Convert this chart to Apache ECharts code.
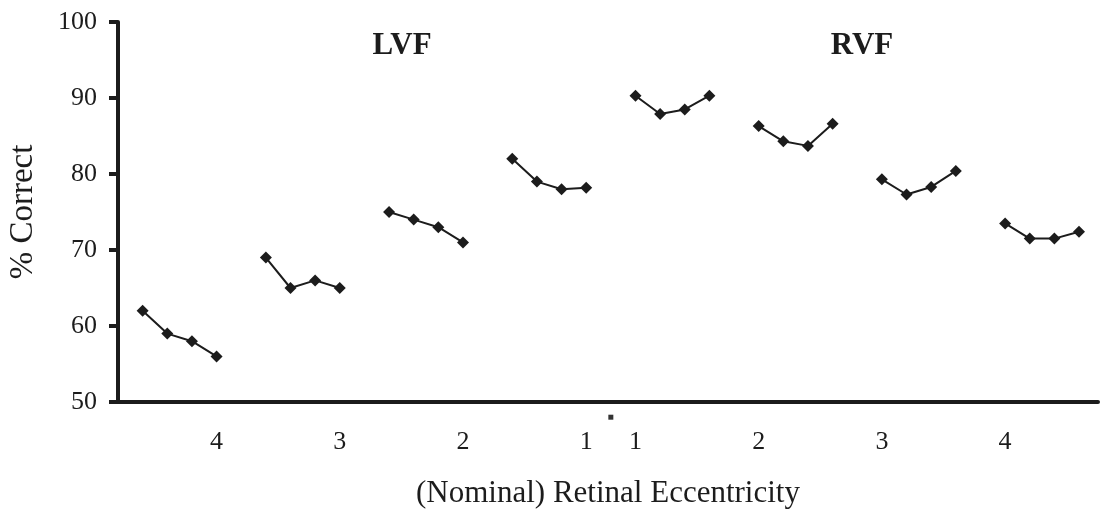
<!DOCTYPE html>
<html>
<head>
<meta charset="utf-8">
<script src="https://cdn.jsdelivr.net/npm/echarts@6/dist/echarts.min.js"></script>
<style>
html,body{margin:0;padding:0;background:#fff;}
#chart{width:1102px;height:512px;}
</style>
</head>
<body>
<div id="chart"></div>
<script>
// Group labels (eccentricity), left to right
const groupLabels = ['4', '3', '2', '1', '1', '2', '3', '4'];
const fieldTitles = ['LVF', 'RVF'];
// % correct, four points per eccentricity group
const lvf4 = [62, 59, 58, 56];
const lvf3 = [69, 65, 66, 65];
const lvf2 = [75, 74, 73, 71];
const lvf1 = [82, 79, 78, 78.2];
const rvf1 = [90.3, 87.9, 88.5, 90.3];
const rvf2 = [86.3, 84.3, 83.7, 86.6];
const rvf3 = [79.3, 77.3, 78.3, 80.4];
const rvf4 = [73.5, 71.5, 71.5, 72.4];
const yTicks = [50, 60, 70, 80, 90, 100];

const groups = [lvf4, lvf3, lvf2, lvf1, rvf1, rvf2, rvf3, rvf4];
const SLOTS = 5; // 4 points + 1 gap slot per group
const INK = '#1c1c1c';
const FONT = '"Liberation Serif", "Times New Roman", serif';

// label positions: LVF labels under last point, RVF labels under first point
const labelAt = {};
groups.forEach((g, gi) => {
  const idx = gi < 4 ? gi * SLOTS + 3 : gi * SLOTS;
  labelAt[idx] = groupLabels[gi];
});

const series = groups.map((vals, gi) => ({
  type: 'line',
  data: vals.map((v, j) => [gi * SLOTS + j, v]),
  symbol: 'diamond',
  symbolSize: 12,
  lineStyle: { color: INK, width: 2 },
  itemStyle: { color: INK },
  animation: false,
  silent: true
}));
// small fixation marker between the two visual fields, just below the axis
series.push({
  type: 'scatter',
  data: [[4 * SLOTS - 1, yTicks[0] - 2]],
  symbol: 'rect',
  symbolSize: 5,
  itemStyle: { color: '#000' },
  clip: false,
  animation: false,
  silent: true
});

const chart = echarts.init(document.getElementById('chart'), null, { renderer: 'canvas' });
chart.setOption({
  backgroundColor: '#fff',
  animation: false,
  grid: { left: 118, right: 4, top: 22, bottom: 110, containLabel: false, outerBoundsMode: 'none' },
  xAxis: {
    type: 'value',
    min: -1,
    max: 38.77,
    interval: 1,
    splitLine: { show: false },
    axisTick: { show: false },
    axisLine: { show: true, onZero: false, lineStyle: { color: INK, width: 4 } },
    axisLabel: {
      show: true,
      margin: 27,
      color: INK,
      fontFamily: FONT,
      fontSize: 26,
      showMinLabel: true,
      showMaxLabel: true,
      formatter: v => labelAt[Math.round(v)] !== undefined && Math.abs(v - Math.round(v)) < 1e-6 ? labelAt[Math.round(v)] : ''
    },
    name: '(Nominal) Retinal Eccentricity',
    nameLocation: 'middle',
    nameGap: 76,
    nameTextStyle: { color: INK, fontFamily: FONT, fontSize: 31 }
  },
  yAxis: {
    type: 'value',
    min: yTicks[0],
    max: yTicks[yTicks.length - 1],
    interval: 10,
    splitLine: { show: false },
    axisLine: { show: true, onZero: false, lineStyle: { color: INK, width: 4 } },
    axisTick: { show: true, inside: false, length: 9, lineStyle: { color: INK, width: 4 } },
    axisLabel: { margin: 21, color: INK, fontFamily: FONT, fontSize: 26 },
    name: '% Correct',
    nameLocation: 'middle',
    nameGap: 78,
    nameTextStyle: { color: INK, fontFamily: FONT, fontSize: 33 }
  },
  graphic: [
    { type: 'text', x: 402, y: 46, style: { text: fieldTitles[0], align: 'center', verticalAlign: 'middle', fill: INK, font: 'bold 31px ' + FONT } },
    { type: 'text', x: 862, y: 46, style: { text: fieldTitles[1], align: 'center', verticalAlign: 'middle', fill: INK, font: 'bold 31px ' + FONT } }
  ],
  series: series
});
</script>
</body>
</html>
